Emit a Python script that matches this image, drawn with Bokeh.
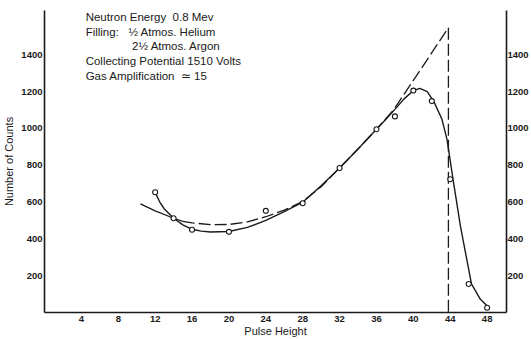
from bokeh.plotting import figure
from bokeh.models import LinearAxis, Range1d, Label, FixedTicker
from bokeh.embed import file_html
from bokeh.resources import INLINE

# measured points (Pulse Height, Number of Counts)
pulse = [12, 14, 16, 20, 24, 28, 32, 36, 38, 40, 42, 44, 46, 48]
counts = [653, 512, 449, 438, 552, 593, 785, 995, 1065, 1205, 1148, 724, 155, 26]

# hand-drawn solid curve
solid_x = [12, 12.5, 13, 14, 15, 16, 17, 18, 20, 22, 24, 26, 28, 30, 32, 34, 36, 37, 38, 39, 40, 40.7,
           41.5, 42.2, 43.1, 43.65, 44.3, 45.1, 46.3, 47.25, 48.2]
solid_y = [653, 600, 562, 512, 476, 452, 442, 437, 440, 462, 500, 548, 599, 688, 785, 888, 995, 1048, 1103,
           1160, 1205, 1217, 1200, 1148, 1049, 940, 724, 470, 155, 73, 26]

# second curve: solid start, then dashed extrapolation to the apex and the cut-off
start_x = [10.4, 12, 14, 15]
start_y = [590, 552, 512, 495]
dash_x = [15, 16, 18, 20, 22, 24, 26, 28, 30, 32, 34, 36, 37.9, 43.8, 43.8]
dash_y = [495, 487, 477, 478, 492, 520, 556, 602, 683, 785, 888, 995, 1103, 1546, 0]

x_ticks = [4, 8, 12, 16, 20, 24, 28, 32, 36, 40, 44, 48]
y_ticks = [200, 400, 600, 800, 1000, 1200, 1400]

NB = "\u00a0"
notes = ["Neutron Energy" + NB * 2 + "0.8 Mev",
         "Filling:" + NB * 3 + "\u00bd Atmos. Helium",
         "2\u00bd Atmos. Argon",
         "Collecting Potential 1510 Volts",
         "Gas Amplification" + NB * 2 + "\u2243 15"]

INK = "#1a1a1a"

p = figure(width=531, height=339, output_backend="svg", toolbar_location=None,
           x_range=Range1d(0, 50.1), y_range=Range1d(0, 1640),
           x_axis_type=None, y_axis_type=None,
           min_border_left=42, min_border_right=22, min_border_top=10, min_border_bottom=25)
p.outline_line_color = None
p.xgrid.visible = False
p.ygrid.visible = False
p.background_fill_color = "white"
p.border_fill_color = "white"

def style_axis(ax):
    ax.axis_line_color = INK
    ax.axis_line_width = 1.6
    ax.major_tick_line_color = None
    ax.minor_tick_line_color = None
    ax.major_tick_out = 0
    ax.major_tick_in = 0
    ax.major_label_text_font = "Liberation Sans"
    ax.major_label_text_font_size = "9.5px"
    ax.major_label_text_font_style = "bold"
    ax.major_label_text_color = INK
    ax.axis_label_text_font = "Liberation Sans"
    ax.axis_label_text_font_style = "normal"
    ax.axis_label_text_font_size = "11px"
    ax.axis_label_text_color = INK

xa = LinearAxis(ticker=FixedTicker(ticks=x_ticks), axis_label="Pulse Height")
style_axis(xa)
xa.major_label_standoff = 3
xa.axis_label_standoff = 0
p.add_layout(xa, "below")

ya = LinearAxis(ticker=FixedTicker(ticks=y_ticks), axis_label="Number of Counts")
style_axis(ya)
ya.major_label_standoff = 2
ya.axis_label_standoff = 3
p.add_layout(ya, "left")

yr = LinearAxis(ticker=FixedTicker(ticks=y_ticks))
style_axis(yr)
yr.major_label_standoff = 1
p.add_layout(yr, "right")

p.line(solid_x, solid_y, line_color=INK, line_width=1.4)
p.line(start_x, start_y, line_color=INK, line_width=1.2)
p.line(dash_x, dash_y, line_color=INK, line_width=1.3, line_dash="12 4")
p.scatter(pulse, counts, marker="circle", size=5, fill_color="white", line_color=INK, line_width=1.1)

note_x = [4.46, 4.46, 9.5, 4.46, 4.46]
note_y = [1602, 1521, 1445, 1364, 1287]
for t, nx, ny in zip(notes, note_x, note_y):
    p.add_layout(Label(x=nx, y=ny, text=t, text_font="Liberation Sans", text_font_size="11.5px",
                       text_baseline="middle", text_color=INK))

open("out.html", "w").write(file_html(p, INLINE))
